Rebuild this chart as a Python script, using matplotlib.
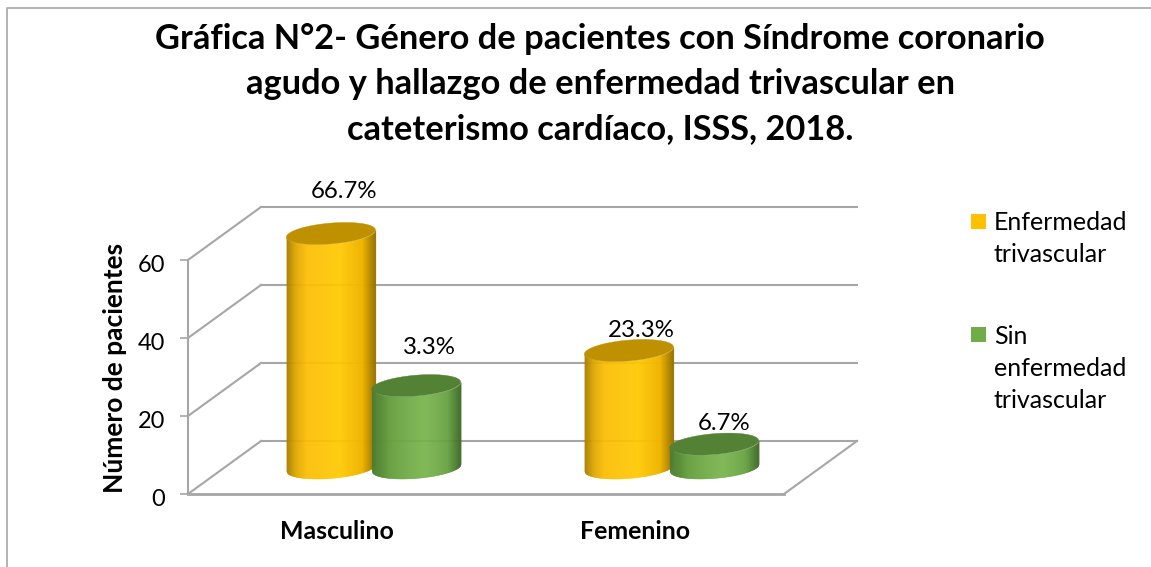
import numpy as np
import matplotlib
matplotlib.use("Agg")
import matplotlib.pyplot as plt
from matplotlib.colors import LinearSegmentedColormap
from matplotlib.lines import Line2D
from matplotlib.patches import Rectangle
from matplotlib.transforms import ScaledTranslation

categories = ["Masculino", "Femenino"]
series_names = ["Enfermedad\ntrivascular", "Sin\nenfermedad\ntrivascular"]
con_enfermedad = [60, 30]
sin_enfermedad = [21, 6]
pct_con = ["66.7%", "23.3%"]
pct_sin = ["3.3%", "6.7%"]
y_ticks = [0, 20, 40, 60]
title = ("Gráfica N°2- Género de pacientes con Síndrome coronario\n"
         "agudo y hallazgo de enfermedad trivascular en\n"
         "cateterismo cardíaco, ISSS, 2018.")

W, H = 1151, 567
plt.rcParams['font.family'] = ['Lato', 'DejaVu Sans']

fig = plt.figure(figsize=(W / 100, H / 100), dpi=100)
ax = fig.add_axes([188 / W, (H - 494) / H, 596 / W, 234 / H])
ax.set_xlim(-0.5, 1.5)
ax.set_ylim(0, 60)
for s in ax.spines.values():
    s.set_visible(False)

# pixels per data unit
sx = 596 / 2
sy = 234 / 60

GRID = "#A6A6A6"
# full depth of the floor, in data units
depth_x = 73 / sx
depth_y = 53 / sy

# walls and floor
for v in y_ticks:
    ax.plot([-0.5, -0.5 + depth_x], [v, v + depth_y], color=GRID, lw=1.5, clip_on=False, zorder=1)
    ax.plot([-0.5 + depth_x, 1.5 + depth_x], [v + depth_y, v + depth_y], color=GRID, lw=1.5, clip_on=False, zorder=1)
ax.plot([-0.5, -0.5], [0, 60], color=GRID, lw=1.5, clip_on=False, zorder=1)
ax.plot([-0.5, 1.5], [0, 0], color=GRID, lw=2, clip_on=False, zorder=1)
ax.plot([1.5, 1.5 + depth_x], [0, depth_y], color=GRID, lw=1.5, clip_on=False, zorder=1)

yellow = LinearSegmentedColormap.from_list("y", [(0, "#A98000"), (0.1, "#DDA600"), (0.22, "#FBBD00"),
                                                 (0.6, "#FFC900"), (0.85, "#F0B500"), (1, "#947000")])
green = LinearSegmentedColormap.from_list("g", [(0, "#4C7C32"), (0.2, "#68A040"), (0.6, "#76B44A"),
                                                (0.85, "#64A03E"), (1, "#3D6827")])


def cylinder(ax, x, value, cmap, top_color):
    # body is a set of thin strips, top is a sheared ellipse
    a, b, k = 44.5, 10.4, 0.08
    cx = x + depth_x / 2
    cy = depth_y / 2
    edges = np.linspace(-a, a, 91)
    for i in range(len(edges) - 1):
        px = np.array([edges[i], edges[i + 1]])
        low = k * px - b * np.sqrt(np.clip(1 - (px / a) ** 2, 0, 1))
        xs = cx + px / sx
        ax.fill_between(xs, cy + low / sy, cy + value + low / sy, color=cmap((i + 0.5) / 90),
                        lw=0.3, clip_on=False, zorder=3)
    t = np.linspace(0, 2 * np.pi, 120)
    ex = a * np.cos(t)
    ey = b * np.sin(t) + k * ex
    ax.fill(cx + ex / sx, cy + value + ey / sy, color=top_color, lw=0.3, clip_on=False, zorder=3)


bar_offset = 0.143
for i in range(len(categories)):
    cylinder(ax, i - bar_offset, con_enfermedad[i], yellow, "#BF9000")
    cylinder(ax, i + bar_offset, sin_enfermedad[i], green, "#548235")

# data labels, moved by hand in the original
label_shift = [(13, 42), (13, 38), (12, 20), (10, 21)]
labels = [pct_con[0], pct_sin[0], pct_con[1], pct_sin[1]]
values = [con_enfermedad[0], sin_enfermedad[0], con_enfermedad[1], sin_enfermedad[1]]
xpos = [0 - bar_offset, 0 + bar_offset, 1 - bar_offset, 1 + bar_offset]
for lab, v, xp, (dx, dy) in zip(labels, values, xpos, label_shift):
    ax.annotate(lab, (xp + depth_x / 2, v + depth_y / 2), xytext=(dx * 0.72, dy * 0.72),
                textcoords="offset points", ha="center", va="center", fontsize=17.3, color="black",
                annotation_clip=False, zorder=5)

ax.set_yticks(y_ticks)
ax.tick_params(axis="y", length=5.5, width=1.2, color=GRID, pad=11, labelsize=17)
for lab in ax.get_yticklabels():
    lab.set_transform(lab.get_transform() + ScaledTranslation(0, -3 / 100, fig.dpi_scale_trans))
ax.set_xticks(range(len(categories)))
ax.set_xticklabels(categories, fontsize=17.9, fontweight="bold")
ax.tick_params(axis="x", length=0, pad=19)

fig.text(115 / W, 1 - 368 / H, "Número de pacientes", rotation=90, ha="center", va="center",
         fontsize=19, fontweight="bold")
fig.text(600 / W, 1 - 84 / H, title, ha="center", va="center", fontsize=24.75, fontweight="bold",
         linespacing=1.5)

# legend
legend_colors = ["#FFC000", "#70AD47"]
legend_y = [214, 327]
text_y = [238.5, 368.5]
for name, c, ly, ty in zip(series_names, legend_colors, legend_y, text_y):
    fig.add_artist(Rectangle((971 / W, 1 - (ly + 15) / H), 15 / W, 15 / H, transform=fig.transFigure,
                             color=c, lw=0))
    fig.text(994 / W, 1 - ty / H, name, ha="left", va="center", fontsize=18, linespacing=1.5)

# frame left over from the document: top and left edges only
fig.add_artist(Line2D([7 / W, 7 / W, 1], [0, 1 - 8 / H, 1 - 8 / H], color="#ADADAD", lw=1.3))

fig.savefig("out.png", dpi=100)
